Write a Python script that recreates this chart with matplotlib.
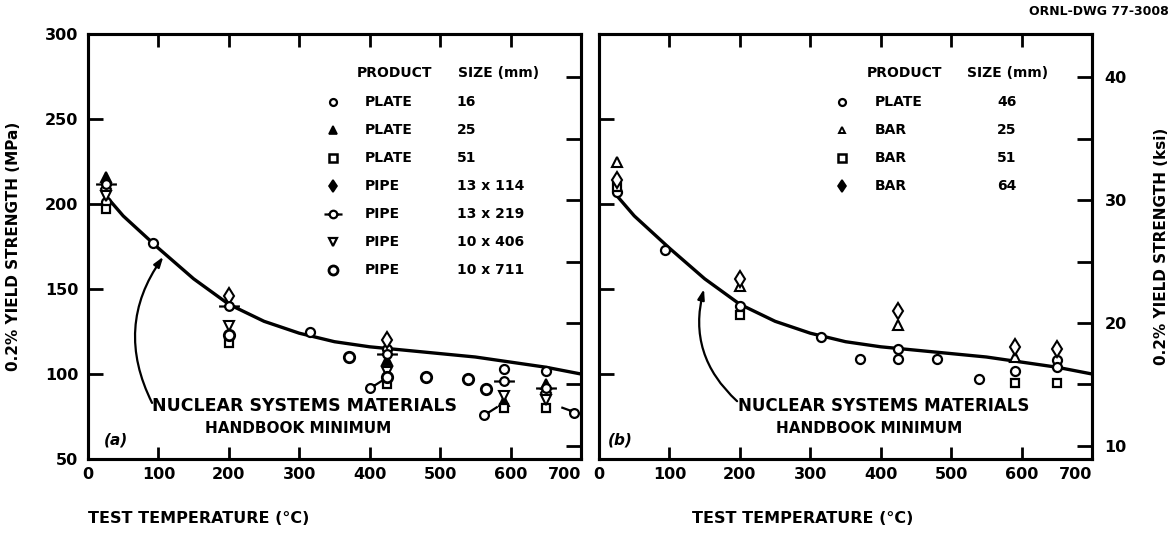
import matplotlib
matplotlib.use('Agg')
import matplotlib.pyplot as plt
from matplotlib.path import Path

# NSMH minimum curve (MPa vs deg C), same curve on both panels
curve_t = [25, 50, 100, 150, 200, 250, 300, 350, 400, 450, 500, 550, 600, 650, 700]
curve_mpa = [205, 193, 174, 156, 141, 131, 124, 119, 116, 114, 112, 110, 107, 104, 100]

# panel (a): plate and pipe
a_plate16_t = [25, 93, 315, 425, 590, 650]
a_plate16_y = [201, 177, 125, 115, 103, 102]
a_plate25_t = [25, 425, 590, 650]
a_plate25_y = [216, 108, 84, 94]
a_plate51_t = [25, 200, 425, 590, 650]
a_plate51_y = [197, 118, 94, 80, 80]
a_pipe114_t = [25, 200, 425, 650]
a_pipe114_y = [209, 146, 120, 89]
a_pipe219_t = [25, 200, 425, 590, 650]
a_pipe219_y = [212, 140, 112, 96, 92]
a_pipe406_t = [25, 200, 425, 590, 650]
a_pipe406_y = [205, 128, 101, 87, 85]
a_pipe711_t = [200, 370, 425, 480, 540, 565]
a_pipe711_y = [123, 110, 98, 98, 97, 91]
# points displaced sideways, tail points back to their stack
a_shift_r_t = [400, 563]
a_shift_r_y = [92, 76]
a_shift_l_t = [690]
a_shift_l_y = [77]

# panel (b): plate and bar
b_plate46_t = [25, 93, 200, 315, 370, 425, 425, 480, 540, 590, 650, 650]
b_plate46_y = [207, 173, 140, 122, 109, 115, 109, 109, 97, 102, 108, 104]
b_bar25_t = [25, 200, 425, 590]
b_bar25_y = [225, 152, 129, 110]
b_bar51_t = [25, 200, 590, 650]
b_bar51_y = [210, 135, 95, 95]
b_bar64_t = [25, 200, 425, 590, 650]
b_bar64_y = [214, 156, 137, 116, 115]

legend_a_products = ['PLATE', 'PLATE', 'PLATE', 'PIPE', 'PIPE', 'PIPE', 'PIPE']
legend_a_sizes = ['16', '25', '51', '13 x 114', '13 x 219', '10 x 406', '10 x 711']
legend_b_products = ['PLATE', 'BAR', 'BAR', 'BAR']
legend_b_sizes = ['46', '25', '51', '64']

temp_ticks = [0, 100, 200, 300, 400, 500, 600, 700]
mpa_ticks = [50, 100, 150, 200, 250, 300]
ksi_ticks = [10, 20, 30, 40]
ksi_minor = [15, 25, 35]

plt.rcParams['font.family'] = 'DejaVu Sans'
plt.rcParams['font.weight'] = 'bold'
plt.rcParams['axes.labelweight'] = 'bold'


def ring_with(*segs):
    parts = [Path.circle((0, 0), 1.0)] + [Path(s) for s in segs]
    return Path.make_compound_path(*parts)


flag_circle = ring_with([(-2.4, 0), (-1, 0)], [(1, 0), (2.4, 0)])
tail_right = ring_with([(0.8, 0.6), (3.0, 2.0)])
tail_left = ring_with([(-0.8, 0.6), (-3.0, 1.4)])

st_plate16 = dict(marker='o', ms=6.5, mfc='white', mew=1.6)
st_plate25 = dict(marker='^', ms=6.5, mfc='black', mew=1.4)
st_open_tri = dict(marker='^', ms=6.5, mfc='white', mew=1.5)
st_square = dict(marker='s', ms=6, mfc='white', mew=1.6)
st_diamond = dict(marker='d', ms=8, mfc='white', mew=1.5)
st_flag = dict(marker=flag_circle, ms=15, mfc='white', mew=1.6)
st_down = dict(marker='v', ms=6.5, mfc='white', mew=1.5)
st_big = dict(marker='o', ms=7.5, mfc='white', mew=2.0)
st_tail_r = dict(marker=tail_right, ms=19, mfc='white', mew=1.6)
st_tail_l = dict(marker=tail_left, ms=19, mfc='white', mew=1.6)


def pts(ax, t, y, st):
    ax.plot(t, y, linestyle='none', mec='black', zorder=4, clip_on=False, **st)


fig = plt.figure(figsize=(11.73, 5.4), dpi=100)
ax_a = fig.add_axes([0.0750, 0.150, 0.4203, 0.787])
ax_b = fig.add_axes([0.5107, 0.150, 0.4203, 0.787])

for ax, show_left in ((ax_a, True), (ax_b, False)):
    ax.plot(curve_t, curve_mpa, color='black', lw=2.4, zorder=2,
            solid_capstyle='round')
    ax.set_xlim(0, 700)
    ax.set_ylim(50, 300)
    for s in ax.spines.values():
        s.set_linewidth(2.2)
    ax.set_xticks(temp_ticks)
    ax.set_xticklabels([str(v) for v in temp_ticks])
    ax.get_xticklabels()[-1].set_ha('right')
    ax.set_yticks(mpa_ticks)
    ax.tick_params(axis='x', direction='in', length=9, width=2, top=True,
                   labelsize=11.5, pad=6)
    ax.tick_params(axis='y', direction='in', length=11, width=2, right=False,
                   labelsize=11.5, pad=7, labelleft=show_left)

    tw = ax.twinx()
    tw.set_ylim(8.94, 43.5)
    tw.set_yticks(ksi_ticks)
    tw.set_yticks(ksi_minor, minor=True)
    tw.tick_params(which='both', direction='in', length=11, width=2,
                   labelsize=11.5, pad=9, labelright=not show_left)
    for s in tw.spines.values():
        s.set_linewidth(2.2)
    if not show_left:
        tw.set_ylabel('0.2% YIELD STRENGTH (ksi)', fontsize=11)
        tw.yaxis.set_label_coords(1.126, 0.5)

ax_a.set_ylabel('0.2% YIELD STRENGTH (MPa)', fontsize=11)
ax_a.yaxis.set_label_coords(-0.136, 0.5)

# panel (a) data
pts(ax_a, a_plate16_t, a_plate16_y, st_plate16)
pts(ax_a, a_plate25_t, a_plate25_y, st_plate25)
pts(ax_a, a_plate51_t, a_plate51_y, st_square)
pts(ax_a, a_pipe114_t, a_pipe114_y, st_diamond)
pts(ax_a, a_pipe219_t, a_pipe219_y, st_flag)
pts(ax_a, a_pipe406_t, a_pipe406_y, st_down)
pts(ax_a, a_pipe711_t, a_pipe711_y, st_big)
pts(ax_a, a_shift_r_t, a_shift_r_y, st_tail_r)
pts(ax_a, a_shift_l_t, a_shift_l_y, st_tail_l)

# panel (b) data
pts(ax_b, b_plate46_t, b_plate46_y, st_plate16)
pts(ax_b, b_bar25_t, b_bar25_y, st_open_tri)
pts(ax_b, b_bar51_t, b_bar51_y, st_square)
pts(ax_b, b_bar64_t, b_bar64_y, st_diamond)


def legend_block(ax, products, sizes, styles, x_mark, x_prod, x_size):
    tr = ax.transAxes
    ax.text(x_prod - 0.016, 0.908, 'PRODUCT', transform=tr, fontsize=10,
            va='center')
    ax.text(x_size[0], 0.908, 'SIZE (mm)', transform=tr, fontsize=10,
            va='center')
    for i, (p, s, st) in enumerate(zip(products, sizes, styles)):
        y = 0.840 - i * 0.066
        ax.plot([x_mark], [y], transform=tr, linestyle='none', mec='black',
                clip_on=False, zorder=5, **st)
        ax.text(x_prod, y, p, transform=tr, fontsize=10, va='center')
        ax.text(x_size[1], y, s, transform=tr, fontsize=10, va='center')


lg_small = dict(marker='o', ms=5, mfc='white', mew=1.6)
lg_tri = dict(marker='^', ms=5.5, mfc='black', mew=1.2)
lg_tri_open = dict(marker='^', ms=5, mfc='white', mew=1.4)
lg_sq = dict(marker='s', ms=5.5, mfc='white', mew=1.8)
lg_dia = dict(marker='d', ms=6.5, mfc='black', mew=1.2)
lg_flag = dict(marker=flag_circle, ms=13, mfc='white', mew=1.6)
lg_down = dict(marker='v', ms=5.5, mfc='white', mew=1.6)
lg_big = dict(marker='o', ms=6.5, mfc='white', mew=2.0)

legend_block(ax_a, legend_a_products, legend_a_sizes,
             [lg_small, lg_tri, lg_sq, lg_dia, lg_flag, lg_down, lg_big],
             0.497, 0.562, (0.750, 0.748))
legend_block(ax_b, legend_b_products, legend_b_sizes,
             [lg_small, lg_tri_open, lg_sq, lg_dia],
             0.493, 0.560, (0.746, 0.807))

# handbook minimum callouts
arrow_kw = dict(arrowstyle='-|>,head_length=0.6,head_width=0.2',
                connectionstyle='arc3,rad=-0.3', color='black',
                lw=1.6, shrinkA=0, shrinkB=0)
ax_a.text(91, 81, 'NUCLEAR SYSTEMS MATERIALS', fontsize=12.5, va='center')
ax_a.text(298, 68, 'HANDBOOK MINIMUM', fontsize=11, va='center', ha='center')
ax_a.annotate('', xy=(107, 169), xytext=(91, 83), arrowprops=arrow_kw)
ax_b.text(197, 81, 'NUCLEAR SYSTEMS MATERIALS', fontsize=12, va='center')
ax_b.text(384, 68, 'HANDBOOK MINIMUM', fontsize=11, va='center', ha='center')
ax_b.annotate('', xy=(149, 150), xytext=(196, 84), arrowprops=arrow_kw)

ax_a.text(23, 61, '(a)', fontsize=11, style='italic', va='center')
ax_b.text(13, 61, '(b)', fontsize=11, style='italic', va='center')

fig.text(0.075, 0.039, 'TEST TEMPERATURE (\u00b0C)', fontsize=11.5, va='center')
fig.text(0.590, 0.039, 'TEST TEMPERATURE (\u00b0C)', fontsize=11.5, va='center')
fig.text(0.996, 0.978, 'ORNL-DWG 77-3008', fontsize=9, ha='right', va='center')

fig.savefig('out.png', dpi=100)
